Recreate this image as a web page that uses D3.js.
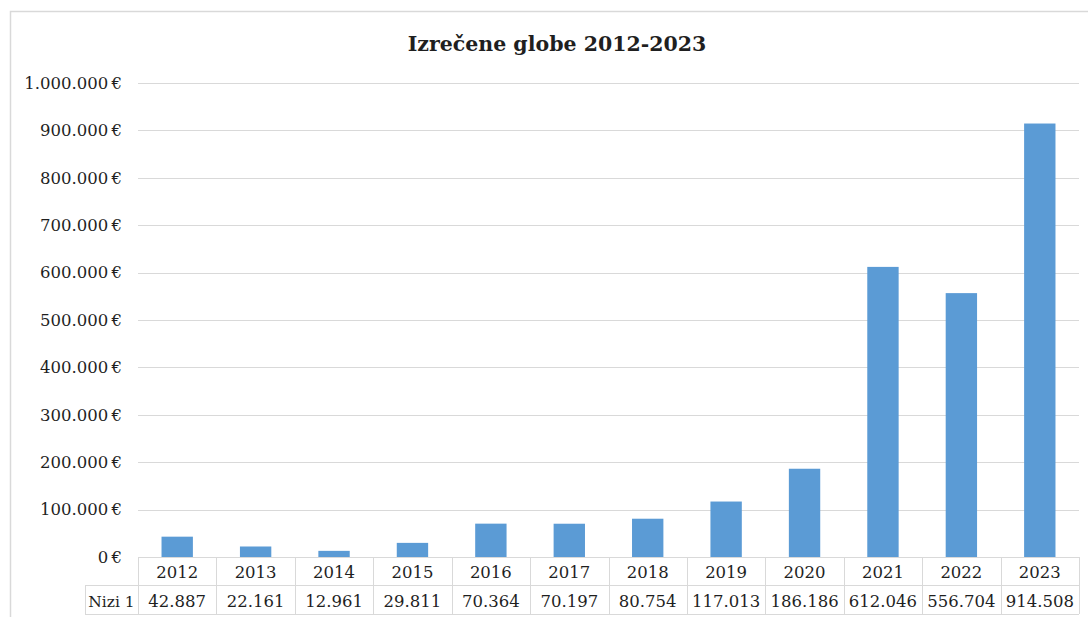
<head>
  <script src="https://cdnjs.cloudflare.com/ajax/libs/d3/7.8.5/d3.min.js"></script>
</head>
<style>
  body { margin: 0; background: #fff; }
  text { font-family: "DejaVu Serif", "Liberation Serif", serif; fill: #1f1f1f; }
  .grid line { stroke: #d9d9d9; stroke-width: 1px; }
  .tbl { stroke: #d9d9d9; stroke-width: 1px; fill: none; }
</style>
<body>
<script>
// data
var years = ["2012", "2013", "2014", "2015", "2016", "2017", "2018", "2019", "2020", "2021", "2022", "2023"];
var values = [42887, 22161, 12961, 29811, 70364, 70197, 80754, 117013, 186186, 612046, 556704, 914508];
var seriesName = "Nizi 1";
var yTicks = [0, 100000, 200000, 300000, 400000, 500000, 600000, 700000, 800000, 900000, 1000000];
var title = "Izrečene globe 2012-2023";

var W = 1088, H = 617;
var plot = {left: 138, right: 1079, top: 83, bottom: 557};
var rowH = 28;

var loc = d3.formatLocale({decimal: ",", thousands: ".", grouping: [3], currency: ["", " €"]});
var fmtNum = loc.format(",");
var fmtEur = function(v) { return fmtNum(v) + "\u2009€"; };

var svg = d3.select("body").append("svg")
    .attr("width", W)
    .attr("height", H);

// chart frame (runs off right and bottom like the screenshot)
svg.append("rect")
    .attr("x", 10.5).attr("y", 11.5)
    .attr("width", W + 20).attr("height", H + 20)
    .attr("fill", "#fff")
    .attr("stroke", "#d9d9d9")
    .attr("stroke-width", 1.5);

var x = d3.scaleBand()
    .domain(years)
    .range([plot.left, plot.right])
    .paddingInner(0.6)
    .paddingOuter(0.3);

var xCell = d3.scaleBand()
    .domain(years)
    .range([plot.left, plot.right]);

var y = d3.scaleLinear()
    .domain([0, 1000000])
    .range([plot.bottom, plot.top]);

// gridlines
svg.append("g")
    .attr("class", "grid")
    .selectAll("line")
    .data(yTicks)
  .enter().append("line")
    .attr("x1", plot.left).attr("x2", plot.right)
    .attr("y1", d => Math.round(y(d)) + 0.5)
    .attr("y2", d => Math.round(y(d)) + 0.5);

// y axis labels
var yAxis = svg.append("g")
    .attr("transform", "translate(" + plot.left + ",0)")
    .call(d3.axisLeft(y).tickValues(yTicks).tickFormat(fmtEur).tickSize(0).tickPadding(16));
yAxis.select(".domain").remove();
yAxis.selectAll("text")
    .style("font-family", "'DejaVu Serif', serif")
    .style("font-size", "16.5px")
    .attr("fill", "#1f1f1f");

// bars
svg.append("g").selectAll("rect")
    .data(values)
  .enter().append("rect")
    .attr("x", (d, i) => x(years[i]))
    .attr("width", x.bandwidth())
    .attr("y", d => y(d))
    .attr("height", d => y(0) - y(d))
    .attr("fill", "#5b9bd5");

// data table
var tbl = svg.append("g");
var t0 = plot.bottom, t1 = plot.bottom + rowH, t2 = plot.bottom + rowH * 2 + 1;

tbl.append("line").attr("class", "tbl")
    .attr("x1", plot.left).attr("x2", plot.right)
    .attr("y1", t0 + 0.5).attr("y2", t0 + 0.5);
tbl.append("line").attr("class", "tbl")
    .attr("x1", 85).attr("x2", plot.right)
    .attr("y1", t1 + 0.5).attr("y2", t1 + 0.5);
tbl.append("line").attr("class", "tbl")
    .attr("x1", 85).attr("x2", plot.right)
    .attr("y1", t2 + 0.5).attr("y2", t2 + 0.5);
tbl.append("line").attr("class", "tbl")
    .attr("x1", 85.5).attr("x2", 85.5)
    .attr("y1", t1).attr("y2", t2);

tbl.selectAll(".vline")
    .data(years.concat(["end"]))
  .enter().append("line")
    .attr("class", "tbl")
    .attr("x1", (d, i) => Math.round(i < years.length ? xCell(d) : plot.right) + 0.5)
    .attr("x2", (d, i) => Math.round(i < years.length ? xCell(d) : plot.right) + 0.5)
    .attr("y1", t0).attr("y2", t2);

tbl.selectAll(".cat")
    .data(years)
  .enter().append("text")
    .attr("x", d => xCell(d) + xCell.bandwidth() / 2)
    .attr("y", t0 + 21)
    .attr("text-anchor", "middle")
    .style("font-size", "16.5px")
    .text(d => d);

tbl.selectAll(".val")
    .data(values)
  .enter().append("text")
    .attr("x", (d, i) => xCell(years[i]) + xCell.bandwidth() / 2)
    .attr("y", t1 + 22)
    .attr("text-anchor", "middle")
    .style("font-size", "16.5px")
    .text(d => fmtNum(d));

tbl.append("text")
    .attr("x", (85 + plot.left) / 2)
    .attr("y", t1 + 22)
    .attr("text-anchor", "middle")
    .style("font-size", "15.5px")
    .text(seriesName);

// title
svg.append("text")
    .attr("x", 557)
    .attr("y", 51)
    .attr("text-anchor", "middle")
    .style("font-size", "20.5px")
    .style("font-weight", "bold")
    .text(title);
</script>
</body>
